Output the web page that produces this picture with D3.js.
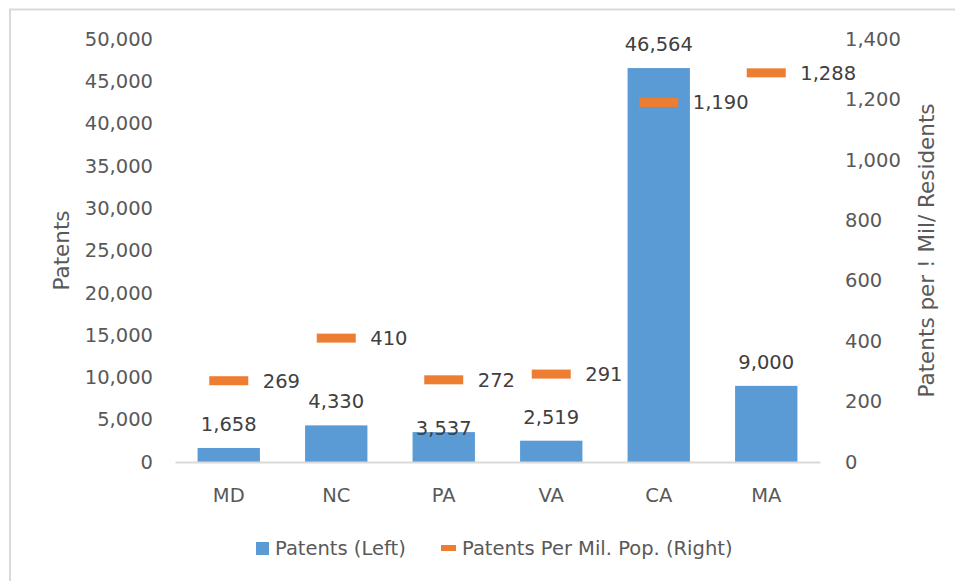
<!DOCTYPE html>
<html>
<head>
<meta charset="utf-8">
<script src="https://cdn.jsdelivr.net/npm/d3@7"></script>
<style>
  html, body { margin: 0; padding: 0; background: #ffffff; }
  svg { display: block; }
</style>
</head>
<body>
<script>
// State patent counts (left axis) and patents per million residents (right axis)
const states = ["MD", "NC", "PA", "VA", "CA", "MA"];
const patents = [1658, 4330, 3537, 2519, 46564, 9000];
const patentsPerMil = [269, 410, 272, 291, 1190, 1288];
const leftTicks = [0, 5000, 10000, 15000, 20000, 25000, 30000, 35000, 40000, 45000, 50000];
const rightTicks = [0, 200, 400, 600, 800, 1000, 1200, 1400];
const seriesNames = ["Patents (Left)", "Patents Per Mil. Pop. (Right)"];
const axisTitles = ["Patents", "Patents per ! Mil/ Residents"];

const W = 961, H = 581;
const FONT = "'DejaVu Sans', sans-serif";
const FS = "19.5px";
const BLUE = "#5B9BD5", ORANGE = "#ED7D31";
const TICK_GREY = "#595959", LABEL_GREY = "#404040", LINE_GREY = "#d9d9d9";

const plot = { left: 175, right: 820, top: 39, bottom: 462 };

const svg = d3.select("body").append("svg")
  .attr("width", W).attr("height", H)
  .style("font-family", FONT);

// chart frame (top and left edges)
svg.append("path")
  .attr("d", `M10,${H} L10,9.5 L955,9.5`)
  .attr("fill", "none").attr("stroke", LINE_GREY).attr("stroke-width", 2);

const x = d3.scaleBand().domain(states)
  .range([plot.left, plot.right]).paddingInner(0.42).paddingOuter(0.21);
const yL = d3.scaleLinear().domain([0, 50000]).range([plot.bottom, plot.top]);
const yR = d3.scaleLinear().domain([0, 1400]).range([plot.bottom, plot.top]);
const fmt = d3.format(",");

// left axis
const gL = svg.append("g").attr("transform", `translate(${plot.left},0)`)
  .call(d3.axisLeft(yL).tickValues(leftTicks).tickFormat(fmt).tickSize(0).tickPadding(22));
gL.select(".domain").remove();
gL.selectAll("text").attr("fill", TICK_GREY).style("font-size", FS).style("font-family", FONT);

// right axis
const gR = svg.append("g").attr("transform", `translate(${plot.right},0)`)
  .call(d3.axisRight(yR).tickValues(rightTicks).tickFormat(fmt).tickSize(0).tickPadding(25));
gR.select(".domain").remove();
gR.selectAll("text").attr("fill", TICK_GREY).style("font-size", FS).style("font-family", FONT);

// bars
svg.append("g").selectAll("rect").data(states).join("rect")
  .attr("x", d => x(d))
  .attr("y", (d, i) => yL(patents[i]))
  .attr("width", x.bandwidth())
  .attr("height", (d, i) => yL(0) - yL(patents[i]))
  .attr("fill", BLUE);

// category axis
const gX = svg.append("g").attr("transform", `translate(0,${plot.bottom})`)
  .call(d3.axisBottom(x).tickSize(0).tickSizeOuter(0).tickPadding(26));
gX.select(".domain").attr("stroke", LINE_GREY).attr("stroke-width", 2);
gX.selectAll("text").attr("fill", TICK_GREY).style("font-size", FS).style("font-family", FONT);

// bar value labels; the PA label sits lower so it clears the marker label beside it
const barLabelShift = { PA: 20 };
svg.append("g").selectAll("text").data(states).join("text")
  .attr("x", d => x(d) + x.bandwidth() / 2)
  .attr("y", (d, i) => yL(patents[i]) - 17 + (barLabelShift[d] || 0))
  .attr("text-anchor", "middle")
  .attr("fill", LABEL_GREY).style("font-size", FS)
  .text((d, i) => fmt(patents[i]));

// per-million markers (dash shapes) on the right scale
const mW = 39, mH = 9;
svg.append("g").selectAll("rect").data(states).join("rect")
  .attr("x", d => x(d) + x.bandwidth() / 2 - mW / 2)
  .attr("y", (d, i) => yR(patentsPerMil[i]) - mH / 2)
  .attr("width", mW).attr("height", mH)
  .attr("fill", ORANGE);

svg.append("g").selectAll("text").data(states).join("text")
  .attr("x", d => x(d) + x.bandwidth() / 2 + 34)
  .attr("y", (d, i) => yR(patentsPerMil[i]))
  .attr("dy", "0.36em")
  .attr("fill", LABEL_GREY).style("font-size", FS)
  .text((d, i) => fmt(patentsPerMil[i]));

// axis titles
svg.append("text")
  .attr("transform", `translate(69,${(plot.top + plot.bottom) / 2}) rotate(-90)`)
  .attr("text-anchor", "middle").attr("fill", TICK_GREY).style("font-size", "21.5px")
  .text(axisTitles[0]);
svg.append("text")
  .attr("transform", `translate(934,${(plot.top + plot.bottom) / 2}) rotate(-90)`)
  .attr("text-anchor", "middle").attr("fill", TICK_GREY).style("font-size", "21.5px")
  .text(axisTitles[1]);

// legend
const legend = svg.append("g");
legend.append("rect").attr("x", 256).attr("y", 542).attr("width", 13).attr("height", 13).attr("fill", BLUE);
legend.append("text").attr("x", 275).attr("y", 555).attr("fill", TICK_GREY).style("font-size", FS).text(seriesNames[0]);
legend.append("rect").attr("x", 441).attr("y", 545).attr("width", 15).attr("height", 6).attr("fill", ORANGE);
legend.append("text").attr("x", 462).attr("y", 555).attr("fill", TICK_GREY).style("font-size", FS).text(seriesNames[1]);
</script>
</body>
</html>
